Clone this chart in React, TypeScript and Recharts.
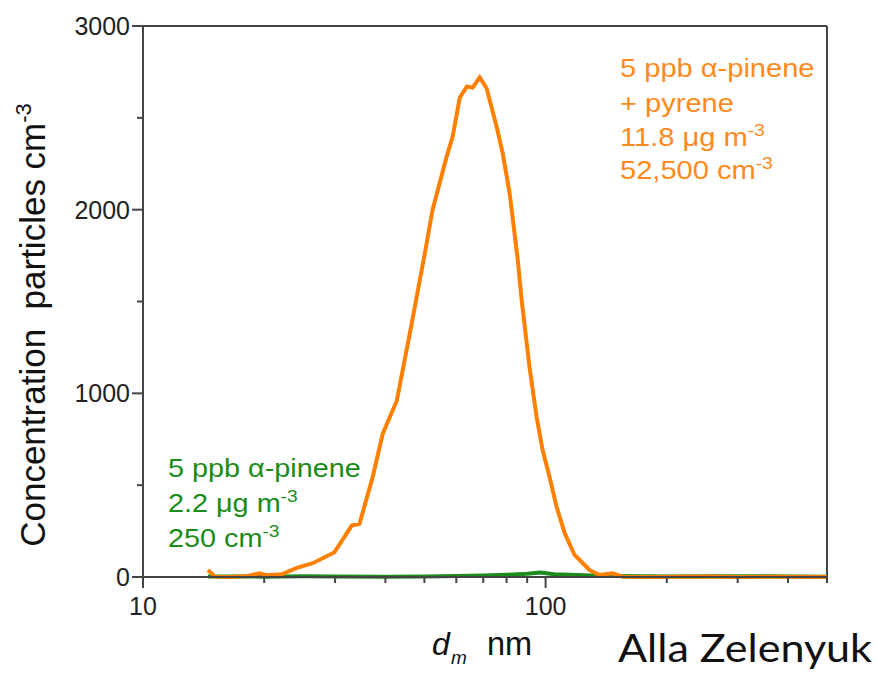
import React from 'react';
import { LineChart, Line, XAxis, YAxis, ReferenceLine } from 'recharts';

// Orange: 5 ppb alpha-pinene + pyrene
const orangeD = [14.5, 15.1, 16.5, 18.1, 19.5, 20.3, 22.1, 24.1, 26.4, 29.9, 33.0, 34.5, 37.2, 39.4, 42.7, 46.5, 50.1, 52.4, 56.8, 58.8, 61.2, 63.7, 65.9, 68.6, 71.4, 75.6, 78.2, 81.4, 85.3, 87.2, 91.2, 95.0, 98.3, 102.3, 106.5, 111.5, 118, 128.6, 136.1, 146.6, 155.3, 180, 250, 300, 400, 500];
const orangeV = [38, 2, 0, 5, 20, 10, 15, 50, 75, 135, 280, 290, 545, 780, 960, 1380, 1760, 2000, 2290, 2400, 2610, 2670, 2665, 2720, 2660, 2450, 2310, 2090, 1725, 1508, 1143, 871, 691, 544, 381, 240, 120, 38, 11, 20, 2, 0, 3, 0, 2, 0];

// Green: 5 ppb alpha-pinene
const greenD = [14.5, 20, 25, 30, 40, 50, 60, 70, 80, 90, 97, 105, 115, 130, 150, 200, 300, 400, 500];
const greenV = [3, 2, 4, 3, 2, 3, 5, 8, 12, 18, 25, 15, 12, 8, 5, 3, 4, 3, 2];

const xTicks = [10, 20, 30, 40, 50, 60, 70, 80, 90, 100, 200, 300, 400, 500];
const xMajor = [10, 100];
const yTicks = [0, 500, 1000, 1500, 2000, 2500, 3000];
const yMajor = [0, 1000, 2000, 3000];

const orangeData = orangeD.map((d, i) => ({ d, v: orangeV[i] }));
const greenData = greenD.map((d, i) => ({ d, v: greenV[i] }));

const AXIS = '#444';
const FONT = '"Liberation Sans", Arial, sans-serif';
const ORANGE_LINE = '#ff8000';
const ORANGE_TEXT = '#ff8a1c';
const GREEN_LINE = '#1c8c1c';
const GREEN_TEXT = '#1a8c1a';

const XTick = (props: any) => {
  const { x, y, payload } = props;
  const major = xMajor.includes(payload.value);
  return (
    <g>
      <line x1={x} x2={x} y1={y} y2={y + (major ? 11 : 6)} stroke={AXIS} strokeWidth={2} />
      {major && (
        <text x={x} y={y + 38} textAnchor="middle" fontSize={25} fontFamily={FONT} fill="#222">
          {payload.value}
        </text>
      )}
    </g>
  );
};

const YTick = (props: any) => {
  const { x, y, payload } = props;
  const major = yMajor.includes(payload.value);
  return (
    <g>
      <line x1={x} x2={x - (major ? 11 : 6)} y1={y} y2={y} stroke={AXIS} strokeWidth={2} />
      {major && (
        <text x={x - 13} y={y + 9} textAnchor="end" fontSize={25} fontFamily={FONT} fill="#222">
          {payload.value}
        </text>
      )}
    </g>
  );
};

export default function App() {
  return (
    <div style={{ position: 'absolute', left: 0, top: 0, width: 877, height: 673, background: '#fff' }}>
      <LineChart width={877} height={673} margin={{ top: 26, right: 50, bottom: 0, left: 0 }}>
        <XAxis
          dataKey="d"
          type="number"
          scale="log"
          domain={[10, 500]}
          allowDataOverflow
          ticks={xTicks}
          interval={0}
          tickSize={0}
          tickMargin={0}
          height={96}
          tick={<XTick />}
          tickLine={false}
          axisLine={{ stroke: AXIS, strokeWidth: 2 }}
        />
        <YAxis
          dataKey="v"
          type="number"
          domain={[0, 3000]}
          ticks={yTicks}
          interval={0}
          tickSize={0}
          tickMargin={0}
          width={143}
          tick={<YTick />}
          tickLine={false}
          axisLine={{ stroke: AXIS, strokeWidth: 2 }}
        />
        <ReferenceLine y={3000} stroke={AXIS} strokeWidth={2} />
        <ReferenceLine x={500} stroke={AXIS} strokeWidth={2} />
        <Line data={greenData} dataKey="v" stroke={GREEN_LINE} strokeWidth={4} dot={false} isAnimationActive={false} type="linear" />
        <Line data={orangeData} dataKey="v" stroke={ORANGE_LINE} strokeWidth={4} dot={false} isAnimationActive={false} type="linear" />
      </LineChart>
      <svg width={877} height={673} style={{ position: 'absolute', left: 0, top: 0, pointerEvents: 'none' }}>
        <text transform="translate(45,325) rotate(-90)" textAnchor="middle" fontSize={35} fontFamily={FONT} fill="#111">
          {'Concentration\u00A0 particles cm'}
          <tspan fontSize={22} dy={-14}>-3</tspan>
        </text>
        <text x={432} y={655} fontSize={32} fontFamily={FONT} fill="#111" fontStyle="italic">d</text>
        <text x={451} y={664} fontSize={19} fontFamily={FONT} fill="#111" fontStyle="italic">m</text>
        <text x={487} y={655} fontSize={32.5} fontFamily={FONT} fill="#111">nm</text>
        <text x={618} y={662} fontSize={38} fontFamily="Lato, 'Open Sans', sans-serif" fill="#111" textLength={254} lengthAdjust="spacingAndGlyphs">
          Alla Zelenyuk
        </text>
        <g fontFamily={FONT} fontSize={25.5} fill={ORANGE_TEXT} transform="translate(620,0) scale(1.14,1)">
          <text x={0} y={77}>5 ppb α-pinene</text>
          <text x={0} y={112}>+ pyrene</text>
          <text x={0} y={146}>
            11.8 μg m<tspan fontSize={17} dy={-10}>-3</tspan>
          </text>
          <text x={0} y={179}>
            52,500 cm<tspan fontSize={17} dy={-10}>-3</tspan>
          </text>
        </g>
        <g fontFamily={FONT} fontSize={25.5} fill={GREEN_TEXT} transform="translate(168,0) scale(1.13,1)">
          <text x={0} y={477}>5 ppb α-pinene</text>
          <text x={0} y={512}>
            2.2 μg m<tspan fontSize={17} dy={-10}>-3</tspan>
          </text>
          <text x={0} y={547}>
            250 cm<tspan fontSize={17} dy={-10}>-3</tspan>
          </text>
        </g>
      </svg>
    </div>
  );
}
